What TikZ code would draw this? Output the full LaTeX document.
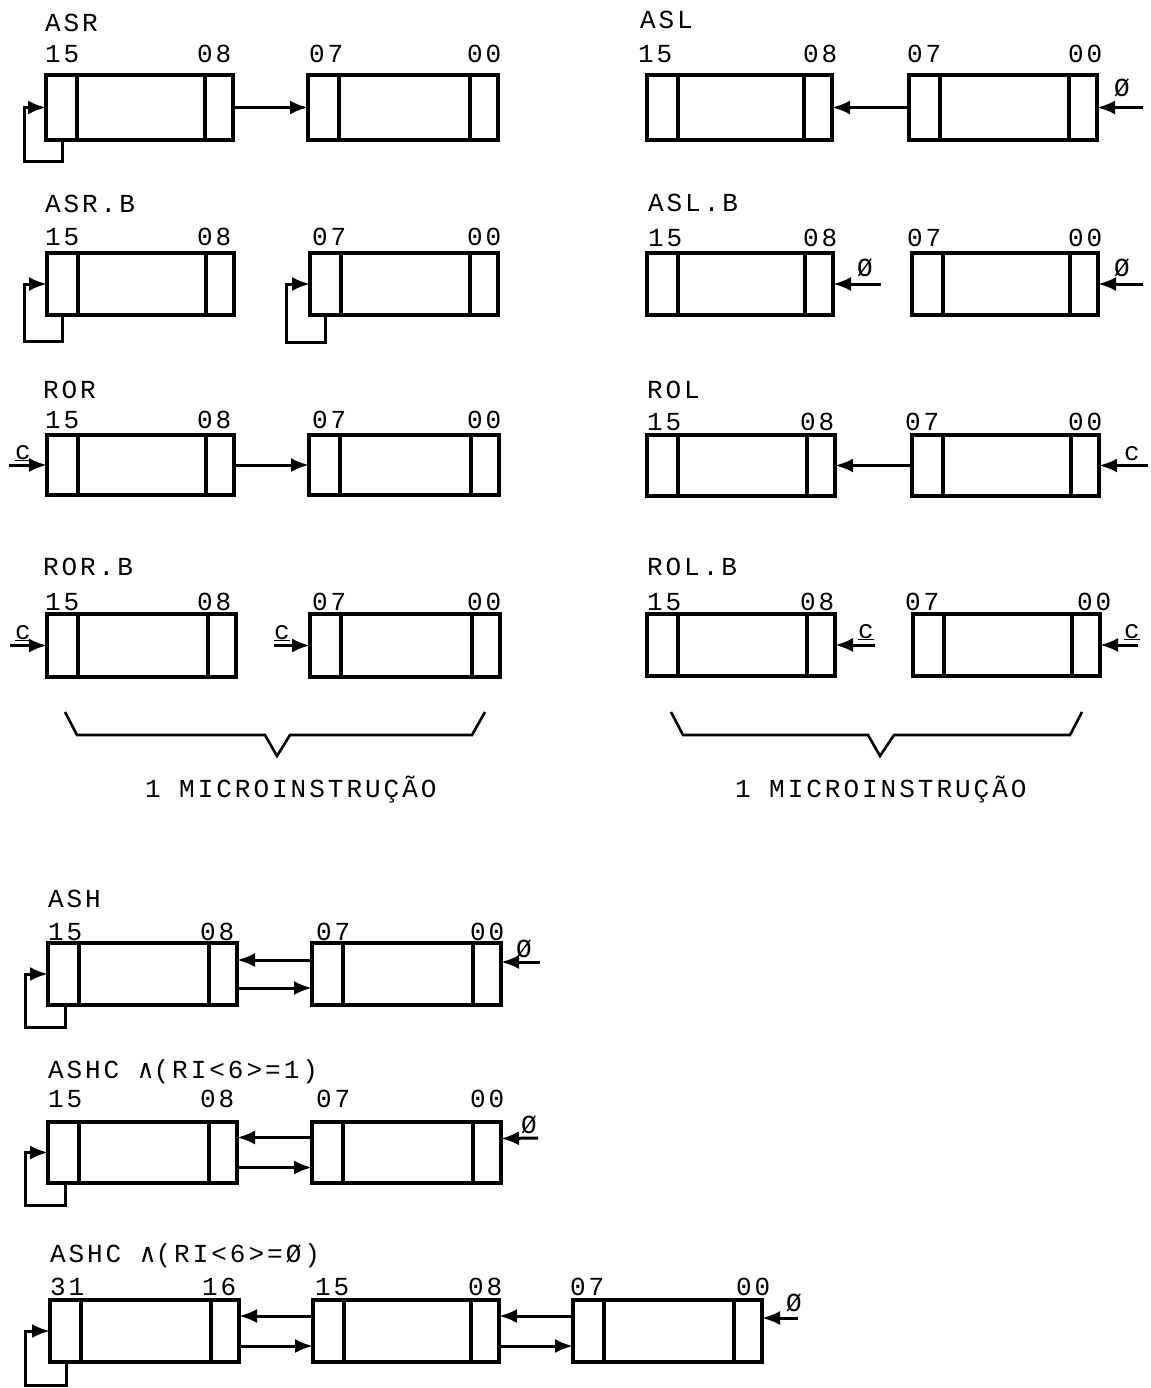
\documentclass[tikz,border=0pt]{standalone}
\usepackage{fontspec}
\setmonofont{Liberation Mono}[LetterSpace=11.5]
\newfontfamily\symfont{DejaVu Sans Mono}
\usetikzlibrary{arrows.meta}
\tikzset{
  regbx/.style={draw, rectangle, line width=3.6pt, inner sep=0pt, outer sep=0pt},
  divl/.style={line width=3.4pt},
  arr/.style={line width=3pt, -{Latex[length=18pt,width=14pt]}},
  txt/.style={anchor=base west, inner sep=0pt, outer sep=0pt, font=\ttfamily\fontsize{26}{28}\selectfont},
  brace/.style={line width=2.6pt, line join=miter}
}
\newcommand\regbox[5]{%
  \node[regbx, minimum width={(#4-#2)*1pt}, minimum height={(#5-#3)*1pt}] (#1) at ({(#2+#4)/2},{(#3+#5)/2}) {};
  \draw[divl] ([xshift=31pt]#1.north west) -- ([xshift=31pt]#1.south west)
              ([xshift=-28pt]#1.north east) -- ([xshift=-28pt]#1.south east);
}
\newcommand\bits[6]{% prefix, baseline, x15, x08, x07, x00
  \node[txt] (#1a) at (#3,#2) {15};
  \node[txt] (#1b) at (#4,#2) {08};
  \node[txt] (#1c) at (#5,#2) {07};
  \node[txt] (#1d) at (#6,#2) {00};
}
\begin{document}
\begin{tikzpicture}[x=1pt,y=-1pt]
\useasboundingbox (0,0) rectangle (1150,1388);

% ---------------- ASR
\node[txt] (tASR) at (45,32) {ASR};
\bits{nASR}{63}{45}{197}{309}{467}
\regbox{asr1}{46}{75}{233}{140}
\regbox{asr2}{308}{75}{498}{140}
\draw[arr] (asr1.east) -- (asr2.west);
\coordinate (asrL) at (24,162);
\draw[arr] ([xshift=16pt]asr1.south west) |- (asrL) |- (asr1.west);

% ---------------- ASR.B
\node[txt] (tASRB) at (45,213) {ASR.B};
\bits{nASRB}{245}{45}{197}{312}{467}
\regbox{asrb1}{47}{253}{234}{315}
\regbox{asrb2}{310}{253}{498}{315}
\coordinate (asrbL1) at (24,341);
\coordinate (asrbL2) at (286,342);
\draw[arr] ([xshift=15pt]asrb1.south west) |- (asrbL1) |- (asrb1.west);
\draw[arr] ([xshift=15pt]asrb2.south west) |- (asrbL2) |- (asrb2.west);

% ---------------- ROR
\node[txt] (tROR) at (43,398) {ROR};
\bits{nROR}{428}{45}{197}{312}{467}
\regbox{ror1}{47}{435}{234}{495}
\regbox{ror2}{309}{435}{499}{495}
\draw[arr] (ror1.east) -- (ror2.west);
\coordinate (rorin) at (9,465);
\draw[arr] (rorin) -- (ror1.west);
\node[txt] (cROR) at (15,459) {\underline{c}};

% ---------------- ROR.B
\node[txt] (tRORB) at (43,575) {ROR.B};
\bits{nRORB}{610}{45}{197}{312}{467}
\regbox{rorb1}{47}{614}{236}{677}
\regbox{rorb2}{310}{614}{500}{677}
\coordinate (rorbin1) at (10,645.5);
\coordinate (rorbin2) at (274,645.5);
\draw[arr] (rorbin1) -- (rorb1.west);
\draw[arr] (rorbin2) -- (rorb2.west);
\node[txt] (cRORB1) at (15,639) {\underline{c}};
\node[txt] (cRORB2) at (274,639) {\underline{c}};

% ---------------- ASL
\node[txt] (tASL) at (640,29) {ASL};
\bits{nASL}{63}{638}{803}{907}{1068}
\regbox{asl1}{647}{75}{832}{140}
\regbox{asl2}{909}{75}{1097}{140}
\draw[arr] (asl2.west) -- (asl1.east);
\coordinate (aslin) at (1143,107.5);
\draw[arr] (aslin) -- (asl2.east);
\node[txt] (zASL) at (1114,97) {Ø};

% ---------------- ASL.B
\node[txt] (tASLB) at (648,212) {ASL.B};
\bits{nASLB}{247}{648}{803}{907}{1068}
\regbox{aslb1}{647}{253}{833}{315}
\regbox{aslb2}{912}{253}{1098}{315}
\coordinate (aslbin1) at (881,284);
\coordinate (aslbin2) at (1143,284);
\draw[arr] (aslbin1) -- (aslb1.east);
\draw[arr] (aslbin2) -- (aslb2.east);
\node[txt] (zASLB1) at (857,276) {Ø};
\node[txt] (zASLB2) at (1114,276) {Ø};

% ---------------- ROL
\node[txt] (tROL) at (647,398) {ROL};
\bits{nROL}{430}{647}{800}{905}{1068}
\regbox{rol1}{647}{435}{835}{496}
\regbox{rol2}{912}{435}{1099}{496}
\draw[arr] (rol2.west) -- (rol1.east);
\coordinate (rolin) at (1148,465.5);
\draw[arr] (rolin) -- (rol2.east);
\node[txt] (cROL) at (1124,460) {c};

% ---------------- ROL.B
\node[txt] (tROLB) at (647,575) {ROL.B};
\bits{nROLB}{610}{647}{800}{905}{1077}
\regbox{rolb1}{647}{614}{835}{676}
\regbox{rolb2}{913}{614}{1100}{676}
\coordinate (rolbin1) at (875,645);
\coordinate (rolbin2) at (1138,645);
\draw[arr] (rolbin1) -- (rolb1.east);
\draw[arr] (rolbin2) -- (rolb2.east);
\node[txt] (cROLB1) at (858,638) {\underline{c}};
\node[txt] (cROLB2) at (1124,638) {\underline{c}};

% ---------------- braces
\draw[brace] (65,712) -- (77,735) -- (265,735) -- (277,756) -- (290,735) -- (472,735) -- (485,712);
\draw[brace] (671,712) -- (683,735) -- (868,735) -- (880,756) -- (894,735) -- (1070,735) -- (1082,712);
\node[txt] (mic1) at (145,797) {1 MICROINSTRUÇÃO};
\node[txt] (mic2) at (735,797) {1 MICROINSTRUÇÃO};

% ---------------- ASH
\node[txt] (tASH) at (48,907) {ASH};
\bits{nASH}{940}{48}{200}{316}{470}
\regbox{ash1}{48}{943}{237}{1005}
\regbox{ash2}{312}{943}{501}{1005}
\draw[arr] ([yshift=14pt]ash2.west) -- ([yshift=14pt]ash1.east);
\draw[arr] ([yshift=-14pt]ash1.east) -- ([yshift=-14pt]ash2.west);
\coordinate (ashin) at (540,962);
\draw[arr] (ashin) -- ([yshift=12pt]ash2.east);
\node[txt] (zASH) at (516,957) {Ø};
\coordinate (ashL) at (25,1027);
\draw[arr] ([xshift=17pt]ash1.south west) |- (ashL) |- (ash1.west);

% ---------------- ASHC (RI<6>=1)
\node[txt] (tASHCa) at (48,1078) {ASHC {\symfont∧}(RI<6>=1)};
\bits{nASHCa}{1107}{48}{200}{316}{470}
\regbox{ashca1}{48}{1122}{237}{1183}
\regbox{ashca2}{312}{1122}{501}{1183}
\draw[arr] ([yshift=15pt]ashca2.west) -- ([yshift=15pt]ashca1.east);
\draw[arr] ([yshift=-15pt]ashca1.east) -- ([yshift=-15pt]ashca2.west);
\coordinate (ashcain) at (538,1138);
\draw[arr] (ashcain) -- ([yshift=14pt]ashca2.east);
\node[txt] (zASHCa) at (521,1133) {Ø};
\coordinate (ashcaL) at (25,1205);
\draw[arr] ([xshift=17pt]ashca1.south west) |- (ashcaL) |- (ashca1.west);

% ---------------- ASHC (RI<6>=0)
\node[txt] (tASHCb) at (50,1262) {ASHC {\symfont∧}(RI<6>=Ø)};
\node[txt] (nASHCb31) at (50,1295) {31};
\node[txt] (nASHCb16) at (202,1295) {16};
\node[txt] (nASHCb15) at (315,1295) {15};
\node[txt] (nASHCb08) at (468,1295) {08};
\node[txt] (nASHCb07) at (570,1295) {07};
\node[txt] (nASHCb00) at (736,1295) {00};
\regbox{ashcb1}{50}{1300}{239}{1362}
\regbox{ashcb2}{313}{1300}{499}{1362}
\regbox{ashcb3}{573}{1300}{762}{1362}
\draw[arr] ([yshift=15pt]ashcb2.west) -- ([yshift=15pt]ashcb1.east);
\draw[arr] ([yshift=-15pt]ashcb1.east) -- ([yshift=-15pt]ashcb2.west);
\draw[arr] ([yshift=15pt]ashcb3.west) -- ([yshift=15pt]ashcb2.east);
\draw[arr] ([yshift=-15pt]ashcb2.east) -- ([yshift=-15pt]ashcb3.west);
\coordinate (ashcbin) at (798,1318);
\draw[arr] (ashcbin) -- ([yshift=13pt]ashcb3.east);
\node[txt] (zASHCb) at (786,1311) {Ø};
\coordinate (ashcbL) at (25,1385);
\draw[arr] ([xshift=16pt]ashcb1.south west) |- (ashcbL) |- (ashcb1.west);
\end{tikzpicture}
\end{document}
